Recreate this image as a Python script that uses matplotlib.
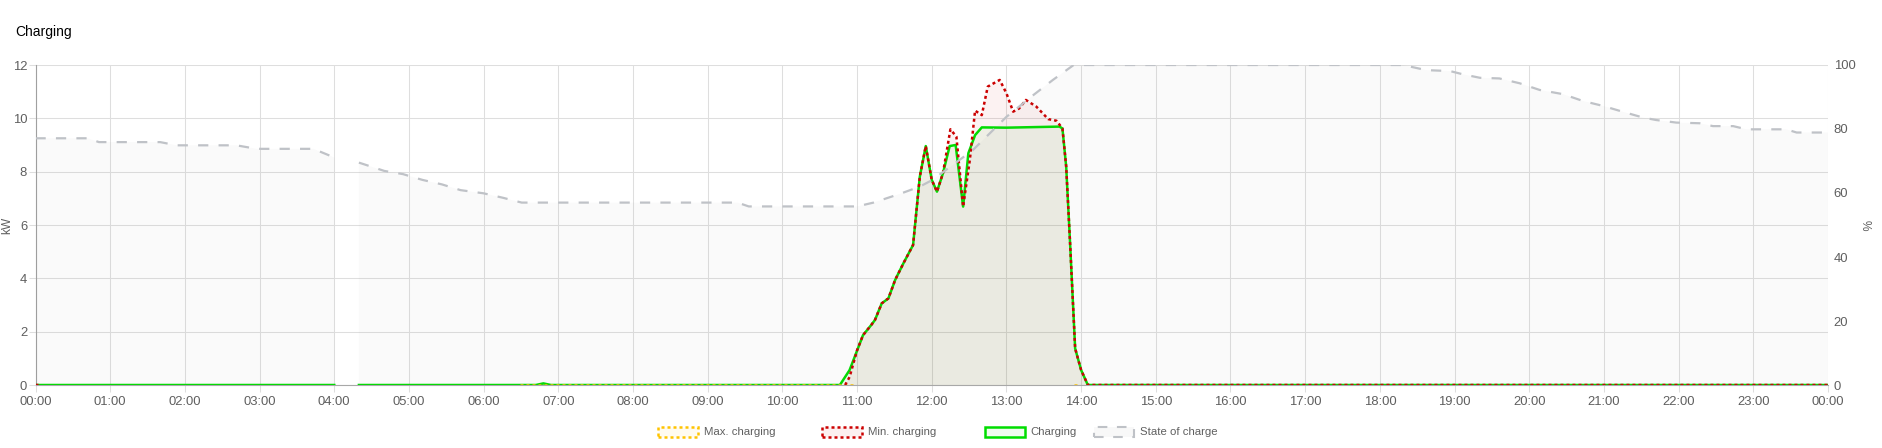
import numpy as np
import matplotlib
matplotlib.use('Agg')
import matplotlib.pyplot as plt
from matplotlib.patches import Patch

plt.rcParams['font.family'] = ['Liberation Sans', 'DejaVu Sans']

# data (hours of the day, kW / %)
nan = np.nan

soc_t = [0.0, 0.7, 0.85, 1.67, 1.89, 2.69, 2.96, 3.72, 4.0, 4.17, 4.33, 4.67, 4.92,
         5.18, 5.44, 5.69, 6.0, 6.26, 6.51, 9.4, 9.55, 11.0, 11.22, 11.57, 11.84,
         12.01, 12.28, 12.55, 13.0, 13.36, 13.62, 13.9, 18.31, 18.62, 18.94, 19.11,
         19.34, 19.6, 19.87, 20.14, 20.45, 20.72, 20.99, 21.25, 21.52, 21.7, 21.97,
         22.28, 22.46, 22.73, 22.91, 23.44, 23.58, 24.0]
soc_v = [77.1, 77.1, 75.9, 75.9, 74.9, 74.9, 73.8, 73.8, 71.1, nan, 69.5, 66.9, 65.9,
         64.1, 62.7, 60.9, 59.9, 58.5, 57.0, 57.0, 55.8, 55.8, 57.0, 59.7, 62.0,
         64.1, 68.75, 73.4, 83.8, 90.6, 95.3, 100.0, 100.0, 98.4, 98.1, 97.1,
         96.0, 95.8, 94.3, 92.2, 90.9, 88.75, 87.2, 85.4, 83.6, 82.8, 82.0,
         81.8, 80.9, 80.9, 79.9, 79.9, 78.9, 78.9]

chg_t = [0.0, 4.0, 4.17, 4.33, 6.7, 6.8, 6.9, 10.77, 10.9, 11.08, 11.19, 11.24, 11.33,
         11.42, 11.51, 11.62, 11.75, 11.84, 11.92, 12.0, 12.07, 12.15, 12.24, 12.32,
         12.42, 12.49, 12.58, 12.67, 13.0, 13.71, 13.75, 13.8, 13.85, 13.92, 14.0,
         14.09, 24.0]
chg_v = [0, 0, nan, 0, 0, 0.06, 0, 0, 0.56, 1.87, 2.25, 2.44, 3.06,
         3.25, 3.94, 4.56, 5.25, 7.81, 8.96, 7.69, 7.25, 7.94, 8.96, 9.0,
         6.69, 8.69, 9.37, 9.66, 9.65, 9.69, 9.62, 8.19, 5.44, 1.37, 0.56,
         0, 0]

min_t = [0.0, 0.05, 0.1, 10.84, 10.9, 11.0, 11.08, 11.19, 11.24, 11.33, 11.42, 11.51,
         11.62, 11.75, 11.84, 11.92, 12.0, 12.07, 12.15, 12.25, 12.33, 12.42, 12.51,
         12.58, 12.67, 12.75, 12.91, 13.0, 13.09, 13.17, 13.26, 13.4, 13.56, 13.67,
         13.75, 13.8, 13.85, 13.92, 14.0, 14.09, 24.0]
min_v = [0, 0, nan, 0, 0.3, 1.3, 1.87, 2.25, 2.44, 3.06, 3.25, 3.94,
         4.56, 5.25, 7.81, 8.96, 7.69, 7.25, 7.94, 9.59, 9.31, 6.69, 8.44,
         10.29, 10.12, 11.19, 11.44, 10.94, 10.25, 10.37, 10.69, 10.44, 9.97, 9.91,
         9.62, 8.19, 5.44, 1.37, 0.56, 0, 0]

max_t = [6.49, 10.97, 11.0, 13.9, 13.96]
max_v = [0, 0, nan, 0, 0]

hours = list(range(25))
hour_labels = ['%02d:00' % (h % 24) for h in hours]

# colours
c_max = '#ffc400'
c_min = '#cc0000'
c_chg = '#00dd00'
c_soc = '#bfc2c7'
c_tick = '#5f5f5f'
c_grid = '#dedede'
fs_tick = 9.4

W, H = 1883, 448
fig = plt.figure(figsize=(W / 100, H / 100), dpi=100)
ax = fig.add_axes([35.5 / W, 63 / H, (1828 - 35.5) / W, 320 / H])
ax2 = ax.twinx()

# state of charge on the right axis
soc_t = np.array(soc_t)
soc_v = np.array(soc_v)
ax2.fill_between(soc_t, 0, soc_v, color='#808080', alpha=0.04, lw=0)
ax2.plot(soc_t, soc_v, color=c_soc, lw=1.6, ls=(0, (4.6, 4.6)))

# kW series
ax.fill_between(min_t, 0, min_v, color=c_min, alpha=0.05, lw=0)
ax.fill_between(chg_t, 0, chg_v, color='#00c800', alpha=0.05, lw=0)
ax.plot(chg_t, chg_v, color=c_chg, lw=1.8, zorder=3)
ax.plot(max_t, max_v, color=c_max, lw=1.8, ls=(0, (1.2, 1.2)), zorder=4)
ax.plot(min_t, min_v, color=c_min, lw=1.8, ls=(0, (1.2, 1.2)), zorder=5)

# axes setup
ax.set_xlim(0, 24)
ax.set_ylim(0, 12)
ax2.set_ylim(0, 100)
ax.set_xticks(hours)
ax.set_xticklabels(hour_labels)
ax.set_yticks(range(0, 13, 2))
ax2.set_yticks(range(0, 101, 20))

ax.set_axisbelow(True)
ax.grid(True, color=c_grid, lw=0.75)
ax.tick_params(axis='x', length=5, width=0.75, color=c_grid, labelcolor=c_tick,
               labelsize=fs_tick, pad=3)
ax.tick_params(axis='y', length=5, width=0.75, color=c_grid, labelcolor=c_tick,
               labelsize=fs_tick, pad=1)
ax2.tick_params(axis='y', length=0, labelcolor=c_tick, labelsize=fs_tick, pad=4)

for a in (ax, ax2):
    a.spines['top'].set_visible(False)
    a.spines['right'].set_visible(False)
ax2.spines['left'].set_visible(False)
ax2.spines['bottom'].set_visible(False)
ax.spines['left'].set_color('#a0a0a0')
ax.spines['bottom'].set_color('#a8a8a8')
ax.spines['left'].set_linewidth(0.8)
ax.spines['bottom'].set_linewidth(0.8)

# titles
fig.text(15 / W, 1 - 32 / H, 'Charging', fontsize=10, va='center', ha='left', color='black')
fig.text(7 / W, 1 - 225 / H, 'kW', rotation=90, va='center', ha='center',
         fontsize=8.6, color=c_tick)
fig.text(1865 / W, 1 - 225 / H, '%', rotation=270, va='center', ha='center',
         fontsize=8.6, color=c_tick)

# legend, one entry at a time to keep the browser-like spacing
entries = [
    (658, 'Max. charging', Patch(facecolor='#fffbf0', edgecolor=c_max, lw=1.8, ls=(0, (1.2, 1.2)))),
    (822, 'Min. charging', Patch(facecolor='#fcefef', edgecolor=c_min, lw=1.8, ls=(0, (1.2, 1.2)))),
    (985, 'Charging', Patch(facecolor='#f0fcf0', edgecolor=c_chg, lw=1.8)),
    (1094, 'State of charge', Patch(facecolor='#f8f8f8', edgecolor=c_soc, lw=1.5, ls=(0, (4.6, 4.6)))),
]
for x0, label, handle in entries:
    leg = fig.legend(handles=[handle], labels=[label], loc='center left',
                     bbox_to_anchor=(x0 / W, 1 - 432 / H), frameon=False,
                     fontsize=8.2, handlelength=3.5, handleheight=1.0,
                     handletextpad=0.5, borderpad=0, borderaxespad=0)
    for t in leg.get_texts():
        t.set_color(c_tick)

fig.savefig('out.png', dpi=100)
